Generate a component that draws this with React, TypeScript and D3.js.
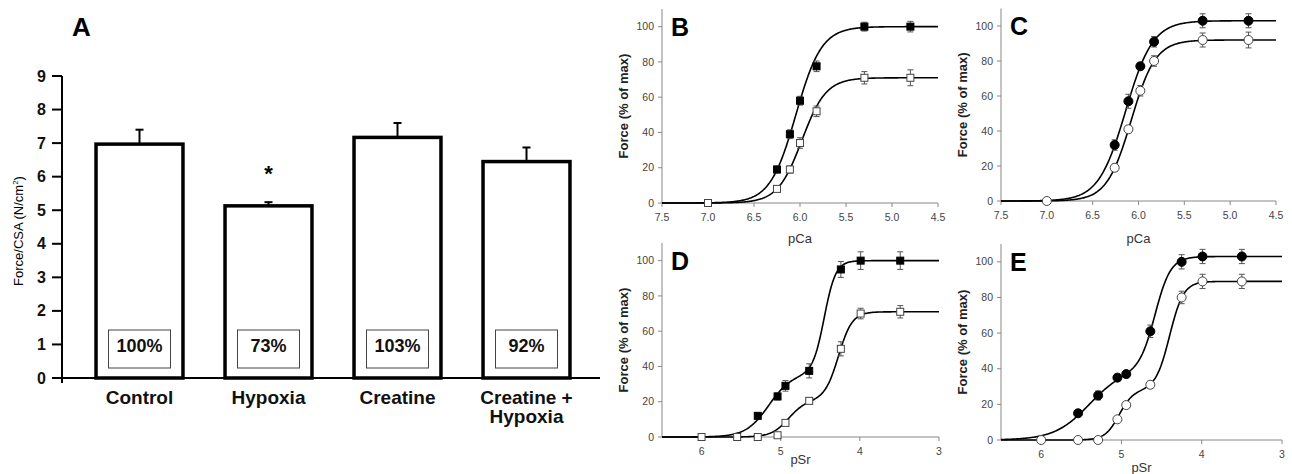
import * as d3 from "d3";

const FONT = '"Liberation Sans", Arial, sans-serif';

// ---- panel A: force per cross-sectional area ----
const barCategories = ["Control", "Hypoxia", "Creatine", "Creatine +\nHypoxia"];
const barValues = [6.97, 5.13, 7.17, 6.45];
const barErrors = [0.43, 0.11, 0.43, 0.42];
const barPercents = ["100%", "73%", "103%", "92%"];
const barTicks = [0, 1, 2, 3, 4, 5, 6, 7, 8, 9];

// ---- panels B-E: force vs pCa / pSr (filled = control, open = hypoxia) ----
const pcaTicks = [7.5, 7.0, 6.5, 6.0, 5.5, 5.0, 4.5];
const psrTicks = [6, 5, 4, 3];
const forceTicks = [0, 20, 40, 60, 80, 100];

const bFilledX = [6.25, 6.11, 6.0, 5.82, 5.3, 4.8];
const bFilledY = [19, 39, 58, 77.5, 100, 100];
const bFilledErr = [2, 2.5, 2.5, 3, 2.5, 3];
const bOpenX = [7.0, 6.25, 6.11, 6.0, 5.82, 5.3, 4.8];
const bOpenY = [0, 8, 19, 34, 52, 71, 71];
const bOpenErr = [0, 1.5, 2, 3, 3, 3.5, 4.5];
const bFilledFit = [{ a: 100, mid: 6.045, n: 3.1 }];
const bOpenFit = [{ a: 71, mid: 5.98, n: 3.3 }];

const cFilledX = [6.26, 6.11, 5.98, 5.83, 5.3, 4.8];
const cFilledY = [32, 57, 77, 91, 103, 103];
const cFilledErr = [3, 4, 2, 3, 4, 4];
const cOpenX = [7.0, 6.26, 6.11, 5.98, 5.83, 5.3, 4.8];
const cOpenY = [0, 19, 41, 63, 80, 92, 92];
const cOpenErr = [0, 2, 2, 3, 3, 4, 4.5];
const cFilledFit = [{ a: 103, mid: 6.14, n: 2.93 }];
const cOpenFit = [{ a: 92, mid: 6.08, n: 3.27 }];

const dFilledX = [5.29, 5.04, 4.94, 4.64, 4.24, 3.99, 3.49];
const dFilledY = [12, 23, 29, 37.5, 95, 100, 100];
const dFilledErr = [1, 2, 3, 4, 4.5, 5, 5];
const dOpenX = [6.0, 5.55, 5.29, 5.04, 4.94, 4.64, 4.24, 3.99, 3.49];
const dOpenY = [0, 0, 0, 1, 8, 20.5, 50, 70, 71];
const dOpenErr = [0, 0, 0, 0, 1, 1.5, 4, 3, 3.5];
const dFilledFit = [{ a: 36, mid: 5.15, n: 3 }, { a: 64, mid: 4.45, n: 6 }];
const dOpenFit = [{ a: 21, mid: 4.9, n: 4 }, { a: 50, mid: 4.27, n: 5 }];

const eFilledX = [5.54, 5.29, 5.05, 4.94, 4.64, 4.25, 3.99, 3.5];
const eFilledY = [15, 25, 35, 37, 61, 100, 103, 103];
const eFilledErr = [1.5, 2.5, 2, 2, 3.5, 4, 4, 4];
const eOpenX = [6.0, 5.54, 5.29, 5.05, 4.94, 4.64, 4.25, 3.99, 3.5];
const eOpenY = [0, 0, 0, 11.6, 19.6, 31, 80, 89, 89];
const eOpenErr = [0, 0, 0, 1, 1.5, 2, 3.5, 4, 4];
const eFilledFit = [{ a: 40, mid: 5.4, n: 2 }, { a: 63, mid: 4.58, n: 4.5 }];
const eOpenFit = [{ a: 28, mid: 5.03, n: 5 }, { a: 61, mid: 4.4, n: 5 }];

// Hill fit (sum of components, one or two phases)
const hill = (p, comps) =>
  comps.reduce((s, c) => s + c.a / (1 + Math.pow(10, c.n * (p - c.mid))), 0);

const zip = (xs, ys, es) => xs.map((x, i) => ({ x, y: ys[i], e: es[i] }));

const panels = [
  {
    letter: "B", xDomain: [7.5, 4.5], xRange: [662, 938], yRange: [203, 9],
    xTicks: pcaTicks, fmt: d3.format(".1f"), xTitle: "pCa", shape: "square",
    filled: zip(bFilledX, bFilledY, bFilledErr), open: zip(bOpenX, bOpenY, bOpenErr),
    filledFit: bFilledFit, openFit: bOpenFit, titleY: 243,
  },
  {
    letter: "C", xDomain: [7.5, 4.5], xRange: [1001, 1276], yRange: [201, 8.5],
    xTicks: pcaTicks, fmt: d3.format(".1f"), xTitle: "pCa", shape: "circle",
    filled: zip(cFilledX, cFilledY, cFilledErr), open: zip(cOpenX, cOpenY, cOpenErr),
    filledFit: cFilledFit, openFit: cOpenFit, titleY: 243,
  },
  {
    letter: "D", xDomain: [6.5, 3], xRange: [662, 939], yRange: [437, 243],
    xTicks: psrTicks, fmt: d3.format("d"), xTitle: "pSr", shape: "square",
    filled: zip(dFilledX, dFilledY, dFilledErr), open: zip(dOpenX, dOpenY, dOpenErr),
    filledFit: dFilledFit, openFit: dOpenFit, titleY: 464,
  },
  {
    letter: "E", xDomain: [6.5, 3], xRange: [1001, 1282], yRange: [440, 244],
    xTicks: psrTicks, fmt: d3.format("d"), xTitle: "pSr", shape: "circle",
    filled: zip(eFilledX, eFilledY, eFilledErr), open: zip(eOpenX, eOpenY, eOpenErr),
    filledFit: eFilledFit, openFit: eOpenFit, titleY: 472,
  },
];

function Marker({ shape, cx, cy, filled }) {
  const fill = filled ? "#000" : "#fff";
  const stroke = filled ? "#000" : "#444";
  if (shape === "square") {
    return <rect x={cx - 3.5} y={cy - 3.5} width={7} height={7} fill={fill} stroke={stroke} strokeWidth={1} />;
  }
  return <circle cx={cx} cy={cy} r={4.5} fill={fill} stroke={stroke} strokeWidth={1} />;
}

function CurvePanel({ p }) {
  const x = d3.scaleLinear(p.xDomain, p.xRange);
  const y = d3.scaleLinear([0, 110], p.yRange);
  const [x0, x1] = p.xRange;
  const y0 = y(0);
  const samples = d3.range(0, 301).map((i) => p.xDomain[0] + (p.xDomain[1] - p.xDomain[0]) * (i / 300));
  const line = d3.line().x((d) => x(d[0])).y((d) => y(d[1]));
  const fitPath = (fit) => line(samples.map((s) => [s, hill(s, fit)]));
  const errBars = (pts) =>
    pts.filter((d) => d.e > 0).map((d, i) => {
      const cx = x(d.x);
      return (
        <g key={i} stroke="#555" strokeWidth={1}>
          <line x1={cx} x2={cx} y1={y(d.y - d.e)} y2={y(d.y + d.e)} />
          <line x1={cx - 3} x2={cx + 3} y1={y(d.y + d.e)} y2={y(d.y + d.e)} />
          <line x1={cx - 3} x2={cx + 3} y1={y(d.y - d.e)} y2={y(d.y - d.e)} />
        </g>
      );
    });
  const midY = (y(0) + y(110)) / 2;
  return (
    <g fontFamily={FONT}>
      {/* axes */}
      <line x1={x0} x2={x0} y1={y(110)} y2={y0} stroke="#888" />
      <line x1={x0} x2={x1} y1={y0} y2={y0} stroke="#888" />
      {forceTicks.map((t) => (
        <g key={t}>
          <line x1={x0 - 4} x2={x0} y1={y(t)} y2={y(t)} stroke="#888" />
          <text x={x0 - 8} y={y(t)} dy="0.35em" textAnchor="end" fontSize={10.5} fill="#444">{t}</text>
        </g>
      ))}
      {p.xTicks.map((t) => (
        <g key={t}>
          <line x1={x(t)} x2={x(t)} y1={y0} y2={y0 + 4} stroke="#888" />
          <text x={x(t)} y={y0 + 18} textAnchor="middle" fontSize={10.5} fill="#444">{p.fmt(t)}</text>
        </g>
      ))}
      <text transform={`translate(${x0 - 39},${midY}) rotate(-90)`} textAnchor="middle" dy="0.35em"
        fontSize={13} fontWeight="bold" fill="#222">Force (% of max)</text>
      <text x={(x0 + x1) / 2 - 0} y={p.titleY} textAnchor="middle" fontSize={13} fill="#333">{p.xTitle}</text>
      <text x={x0 + 9} y={y(100) + 9} fontSize={25} fontWeight="bold" fill="#000">{p.letter}</text>
      {/* fitted curves */}
      <path d={fitPath(p.filledFit)} fill="none" stroke="#000" strokeWidth={1.6} />
      <path d={fitPath(p.openFit)} fill="none" stroke="#000" strokeWidth={1.6} />
      {errBars(p.open)}
      {errBars(p.filled)}
      {p.open.map((d, i) => <Marker key={"o" + i} shape={p.shape} cx={x(d.x)} cy={y(d.y)} filled={false} />)}
      {p.filled.map((d, i) => <Marker key={"f" + i} shape={p.shape} cx={x(d.x)} cy={y(d.y)} filled={true} />)}
    </g>
  );
}

function BarPanel() {
  const y = d3.scaleLinear([0, 9], [378, 76]);
  const x = d3.scaleBand(barCategories, [75, 591]).paddingInner(0.326).paddingOuter(0.163);
  const bw = x.bandwidth();
  const axisX = 62;
  return (
    <g fontFamily={FONT}>
      <text x={72} y={36} fontSize={26} fontWeight="bold">A</text>
      <text transform={`translate(18,231) rotate(-90)`} textAnchor="middle" dy="0.35em" fontSize={13}>
        Force/CSA (N/cm<tspan fontSize={8} dy={-5}>2</tspan><tspan dy={5}>)</tspan>
      </text>
      {barCategories.map((c, i) => {
        const cx = x(c) + bw / 2;
        const top = y(barValues[i]);
        const errTop = y(barValues[i] + barErrors[i]);
        return (
          <g key={c}>
            <line x1={cx} x2={cx} y1={top} y2={errTop} stroke="#000" strokeWidth={2} />
            <line x1={cx - 4} x2={cx + 4} y1={errTop} y2={errTop} stroke="#000" strokeWidth={2} />
            <rect x={x(c)} y={top} width={bw} height={y(0) - top} fill="#fff" stroke="#000" strokeWidth={3.5} />
            <rect x={cx - 31} y={y(0) - 48} width={62} height={38} fill="#fff" stroke="#444" strokeWidth={1} />
            <text x={cx} y={y(0) - 26} textAnchor="middle" fontSize={18} fontWeight="bold" fill="#111">{barPercents[i]}</text>
            <text x={cx} y={404} textAnchor="middle" fontSize={19} fontWeight="bold" fill="#111">
              {c.split("\n").map((s, j) => (
                <tspan key={j} x={cx} dy={j === 0 ? 0 : 19}>{s}</tspan>
              ))}
            </text>
          </g>
        );
      })}
      <text x={x("Hypoxia") + bw / 2} y={181} textAnchor="middle" fontSize={22} fontWeight="bold">*</text>
      <line x1={axisX} x2={axisX} y1={y(9)} y2={y(0) + 5} stroke="#000" strokeWidth={2} />
      <line x1={axisX} x2={600} y1={y(0)} y2={y(0)} stroke="#000" strokeWidth={2} />
      {barTicks.map((t) => (
        <g key={t}>
          <line x1={axisX - 10} x2={axisX} y1={y(t)} y2={y(t)} stroke="#000" strokeWidth={2} />
          <text x={axisX - 16} y={y(t)} dy="0.35em" textAnchor="end" fontSize={16} fontWeight="bold" fill="#111">{t}</text>
        </g>
      ))}
    </g>
  );
}

export default function App() {
  return (
    <svg width={1292} height={474} style={{ position: "absolute", left: 0, top: 0, background: "#fff" }}>
      <rect width={1292} height={474} fill="#fff" />
      <BarPanel />
      {panels.map((p) => <CurvePanel key={p.letter} p={p} />)}
    </svg>
  );
}
